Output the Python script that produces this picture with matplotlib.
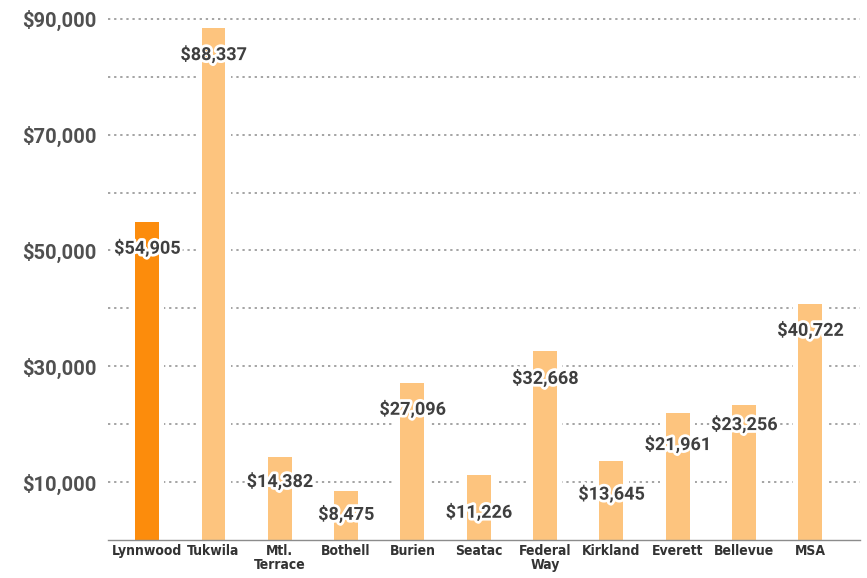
import numpy as np
import matplotlib.pyplot as plt
import matplotlib.patheffects as pe

# median household income by city
cities = ["Lynnwood", "Tukwila", "Mtl.\nTerrace", "Bothell", "Burien", "Seatac",
          "Federal\nWay", "Kirkland", "Everett", "Bellevue", "MSA"]
values = [54905, 88337, 14382, 8475, 27096, 11226, 32668, 13645, 21961, 23256, 40722]
tick_vals = [10000, 30000, 50000, 70000, 90000]
grid_vals = [10000, 20000, 30000, 40000, 50000, 60000, 70000, 80000, 90000]

# how far below the bar top each value label sits (points)
label_drop = [19, 19, 18, 17, 19, 27, 20, 24, 23, 14, 19]

text_col = "#3f3f3f"
hi_col = "#fc8c0c"
lo_col = "#fdc47e"

fig = plt.figure(figsize=(8.67, 5.78), dpi=100)
ax = fig.add_axes([0.1246, 0.0657, 0.8674, 0.9118])

x = np.arange(len(cities))
w = 0.36

for g in grid_vals:
    ax.axhline(g, color="#8c8c8c", lw=1.1, ls=(0, (1.5, 2.5)), zorder=0.5)

# white backing so the grid stops short of each bar
ax.bar(x, values, width=w + 0.16, color="white", zorder=1)
colors = [hi_col] + [lo_col] * (len(values) - 1)
ax.bar(x, values, width=w, color=colors, zorder=2)

halo = [pe.withStroke(linewidth=4, foreground="white")]
for xi, v, d in zip(x, values, label_drop):
    ax.annotate(f"${v:,}", (xi, v), xytext=(0, -d), textcoords="offset points",
                ha="center", va="center", fontsize=13, fontweight="bold",
                family=["Roboto", "DejaVu Sans"], color=text_col,
                path_effects=halo, zorder=4)

ax.set_xlim(-0.59, 10.75)
ax.set_ylim(0, 91000)

ax.set_yticks(tick_vals)
ax.set_yticklabels([f"${t:,}" for t in tick_vals], fontsize=14.5, fontweight="bold",
                   family=["Roboto", "DejaVu Sans"], color="#505050")
ax.set_xticks(x)
ax.set_xticklabels(cities, fontsize=10, fontweight="bold", fontstretch="condensed",
                   family=["DejaVu Sans"], color="#333333", linespacing=1.0)
ax.tick_params(axis="both", length=0)
ax.tick_params(axis="y", pad=8)
ax.tick_params(axis="x", pad=3)

for s in ["top", "right", "left"]:
    ax.spines[s].set_visible(False)
ax.spines["bottom"].set_color("#8c8c8c")
ax.spines["bottom"].set_linewidth(1.0)

fig.savefig("out.png", dpi=100, facecolor="white")
